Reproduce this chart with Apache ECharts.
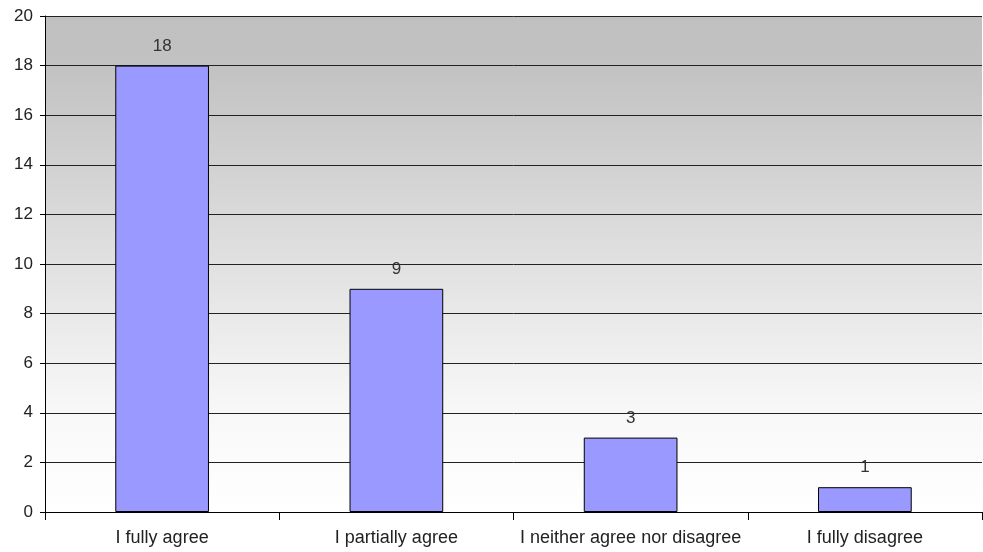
<!DOCTYPE html>
<html>
<head>
<meta charset="utf-8">
<script src="https://cdn.jsdelivr.net/npm/echarts@6/dist/echarts.min.js"></script>
<style>
html, body { margin: 0; padding: 0; background: #ffffff; }
#chart { width: 983px; height: 552px; }
</style>
</head>
<body>
<div id="chart"></div>
<script>
// Survey answers and how many respondents chose each
const categories = ['I fully agree', 'I partially agree', 'I neither agree nor disagree', 'I fully disagree'];
const counts = [18, 9, 3, 1];
const yTicks = { min: 0, max: 20, interval: 2 };

const chart = echarts.init(document.getElementById('chart'));
chart.setOption({
  animation: false,
  textStyle: { fontFamily: '"Liberation Sans", Arial, sans-serif' },
  grid: {
    left: 45, right: 1, top: 16, bottom: 40,
    show: true,
    borderWidth: 0,
    // grey fading to white from top to bottom of the plot area
    backgroundColor: new echarts.graphic.LinearGradient(0, 0, 0, 1, [
      { offset: 0, color: '#c0c0c0' },
      { offset: 0.1, color: '#c2c2c2' },
      { offset: 0.8, color: '#f8f8f8' },
      { offset: 1, color: '#ffffff' }
    ])
  },
  xAxis: {
    type: 'category',
    data: categories,
    axisLine: { lineStyle: { color: '#000', width: 1 } },
    axisTick: { show: true, length: 8, interval: 0, lineStyle: { color: '#000' } },
    axisLabel: { color: '#222', fontSize: 18, margin: 17, interval: 0 }
  },
  yAxis: {
    type: 'value',
    min: yTicks.min, max: yTicks.max, interval: yTicks.interval,
    axisLine: { show: true, lineStyle: { color: '#000', width: 1 } },
    axisTick: { show: true, length: 5, lineStyle: { color: '#000' } },
    axisLabel: { color: '#222', fontSize: 17, margin: 12 },
    splitLine: { show: true, lineStyle: { color: '#222', width: 1 } }
  },
  series: [{
    type: 'bar',
    data: counts,
    barWidth: '40%',
    itemStyle: { color: '#9999ff', borderColor: '#000', borderWidth: 1 },
    label: { show: true, position: 'top', distance: 11, color: '#333', fontSize: 17 }
  }]
});
</script>
</body>
</html>
